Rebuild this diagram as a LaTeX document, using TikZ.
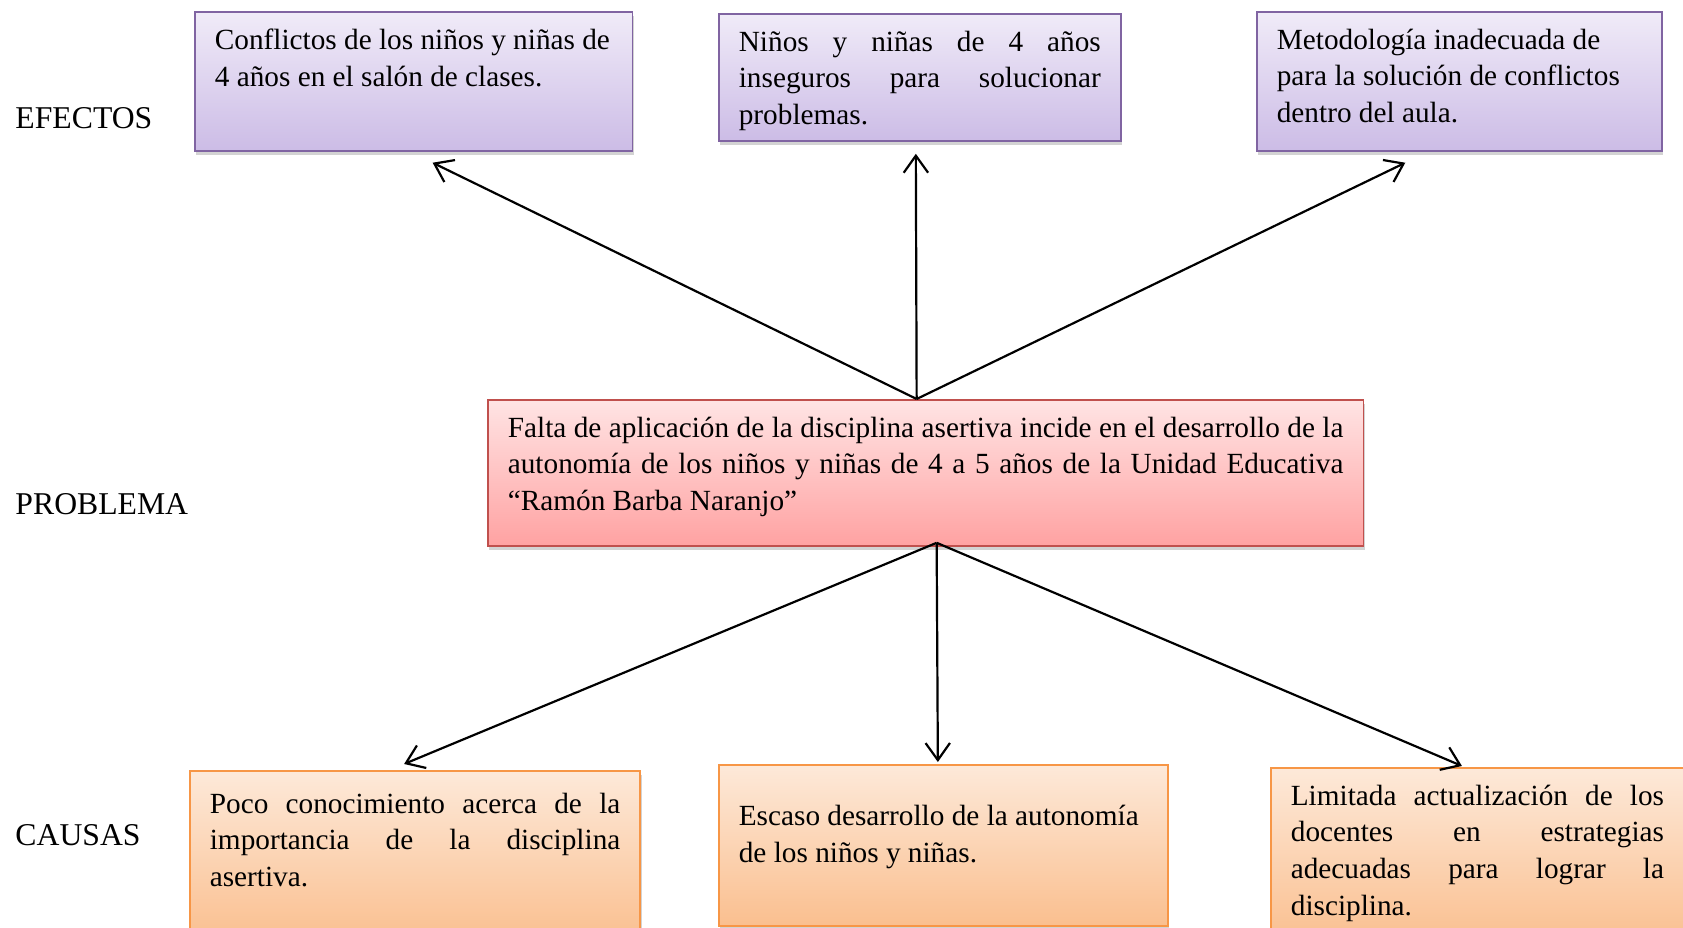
\documentclass[tikz,border=0pt]{standalone}
\usepackage{fontspec}
\setmainfont{Liberation Serif}
\usetikzlibrary{calc, shadows, arrows.meta}
\definecolor{lila}{RGB}{128, 100, 162}
\definecolor{lilaA}{RGB}{240, 235, 248}
\definecolor{lilaB}{RGB}{204, 188, 230}
\definecolor{rojo}{RGB}{192, 80, 77}
\definecolor{rojoA}{RGB}{255, 228, 228}
\definecolor{rojoB}{RGB}{255, 162, 162}
\definecolor{naranja}{RGB}{247, 150, 70}
\definecolor{naranjaA}{RGB}{253, 233, 217}
\definecolor{naranjaB}{RGB}{250, 191, 143}
\hyphenpenalty=10000
\tolerance=9999
\newcommand{\caja}[3]{\parbox[t][#2][t]{#1}{#3}}

\begin{document}
\begin{tikzpicture}[x=0.41pt, y=-0.41pt,
  caja/.style={draw, line width=0.7pt, anchor=north west, inner xsep=8.2pt, inner ysep=7pt,
    font=\fontsize{12}{15}\selectfont,
    drop shadow={shadow xshift=0.6pt, shadow yshift=-1.8pt, opacity=0.35}},
  efecto/.style={caja, draw=lila, top color=lilaA, bottom color=lilaB},
  problema/.style={caja, draw=rojo, top color=rojoA, bottom color=rojoB},
  causa/.style={caja, draw=naranja, top color=naranjaA, bottom color=naranjaB},
  rotulo/.style={anchor=west, inner sep=0pt, font=\fontsize{13}{15}\selectfont},
  flecha/.style={-{Straight Barb[length=7pt, width=10pt]}, line width=0.9pt}]
  \useasboundingbox (0, 0) rectangle (1683, 928);

  \node[rotulo] (efectos) at (15, 118) {EFECTOS};
  \node[rotulo] (problema) at (15, 504) {PROBLEMA};
  \node[rotulo] (causas) at (15, 835) {CAUSAS};

  \node[efecto] (e1) at (194, 11) {\caja{163pt}{43pt}{\raggedright Conflictos de los niños y niñas de\\
    4 años en el salón de clases.}};
  \node[efecto] (e2) at (718, 13) {\caja{148.4pt}{38.1pt}{Niños y niñas de 4 años\linebreak
    inseguros para solucionar\linebreak problemas.}};
  \node[efecto] (e3) at (1256, 11) {\caja{149.6pt}{43pt}{\raggedright Metodología inadecuada de\\
    para la solución de conflictos\\dentro del aula.}};

  \node[problema] (p) at (487, 399) {\caja{342.6pt}{45.9pt}{Falta de aplicación de la disciplina
    asertiva incide en el desarrollo de la\linebreak autonomía de los niños y niñas de 4 a 5 años
    de la Unidad Educativa\linebreak “Ramón Barba Naranjo”}};

  \node[causa] (c1) at (189, 770) {\caja{168.3pt}{56pt}{\vspace*{2pt}Poco conocimiento acerca de
    la\linebreak importancia de la disciplina\linebreak asertiva.}};
  \node[causa] (c2) at (718, 764) {\caja{167.7pt}{52pt}{\vspace*{9.5pt}\raggedright Escaso
    desarrollo de la autonomía\\de los niños y niñas.}};
  \node[causa] (c3) at (1270, 767) {\caja{153pt}{58pt}{Limitada actualización de los\linebreak
    docentes en estrategias\linebreak adecuadas para lograr la\linebreak disciplina.}};

  % efectos
  \draw[flecha] ($(p.north)+(-9, 0)$) -- ($(e1.south)+(19, 11)$);
  \draw[flecha] ($(p.north)+(-9, 0)$) -- ($(e2.south)+(-4, 12)$);
  \draw[flecha] ($(p.north)+(-9, 0)$) -- ($(e3.south)+(-54, 11)$);
  % causas
  \draw[flecha] ($(p.south)+(11, -4)$) -- ($(c1.north)+(-11, -6)$);
  \draw[flecha] ($(p.south)+(11, -4)$) -- ($(c2.north)+(-5.5, -2)$);
  \draw[flecha] ($(p.south)+(11, -4)$) -- ($(c3.north)+(-15.5, -1)$);
\end{tikzpicture}
\end{document}
